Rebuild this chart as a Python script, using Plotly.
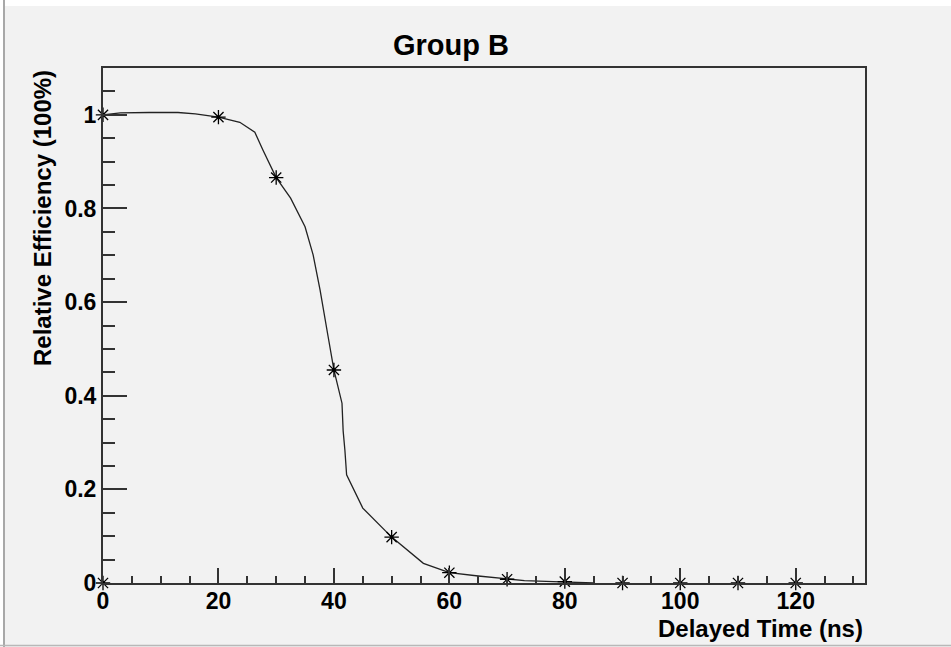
import plotly.graph_objects as go

# Measured points (asterisk markers)
point_x = [0, 0, 20, 30, 40, 50, 60, 70, 80, 90, 100, 110, 120]
point_y = [1.0, 0.0, 0.995, 0.866, 0.455, 0.098, 0.022, 0.008, 0.003, 0.0, 0.0, 0.0, 0.0]

# Smooth guide curve
curve_x = [0, 3, 8, 13, 16, 20, 23.7, 26.3, 27.7, 30, 32.5, 35, 36.4, 37.6, 39, 40, 41.4,
           41.6, 41.9, 42.2, 45, 50, 55.5, 60, 65, 70, 73, 78, 85]
curve_y = [1.0, 1.004, 1.005, 1.005, 1.002, 0.995, 0.984, 0.963, 0.925, 0.866, 0.822, 0.761,
           0.701, 0.626, 0.526, 0.455, 0.384, 0.325, 0.284, 0.231, 0.160, 0.098, 0.042, 0.022,
           0.015, 0.008, 0.005, 0.003, 0.0]

title_text = "Group B"
x_title = "Delayed Time (ns)"
y_title = "Relative Efficiency (100%)"

FONT = "Liberation Sans, Arial, Helvetica, sans-serif"
AX = "#333333"
BG = "#f2f2f2"

fig = go.Figure()
fig.add_trace(go.Scatter(x=curve_x, y=curve_y, mode="lines",
                         line=dict(color="#222222", width=1.3), hoverinfo="skip",
                         showlegend=False))
fig.add_trace(go.Scatter(x=point_x, y=point_y, mode="markers",
                         marker=dict(symbol="asterisk-open", size=12, color="black",
                                     line=dict(color="black", width=1.3)),
                         cliponaxis=False, showlegend=False))
fig.add_trace(go.Scatter(x=point_x, y=point_y, mode="markers",
                         marker=dict(symbol="circle", size=3.5, color="black"),
                         cliponaxis=False, showlegend=False, hoverinfo="skip"))

fig.update_layout(
    width=951, height=647,
    margin=dict(l=103, r=86, t=68, b=64),
    paper_bgcolor=BG, plot_bgcolor=BG,
    font=dict(family=FONT, color="black"),
    xaxis=dict(range=[0, 132], dtick=20, tick0=0, ticks="inside", ticklen=15,
               tickwidth=1.5, tickcolor=AX, showline=True, linecolor=AX, linewidth=2,
               mirror=True, showgrid=False, zeroline=False, ticklabelstandoff=-4,
               tickfont=dict(family=FONT, size=23, color="black", weight="bold"),
               minor=dict(ticks="inside", ticklen=7, dtick=5, tick0=0, tickcolor=AX,
                          tickwidth=1.5, showgrid=False)),
    yaxis=dict(range=[0, 1.1], dtick=0.2, tick0=0, ticks="inside", ticklen=24,
               tickwidth=1.5, tickcolor=AX, showline=True, linecolor=AX, linewidth=2,
               mirror=True, showgrid=False, zeroline=False,
               tickfont=dict(family=FONT, size=23, color="black", weight="bold"),
               minor=dict(ticks="inside", ticklen=12, dtick=0.05, tick0=0, tickcolor=AX,
                          tickwidth=1.5, showgrid=False)),
    annotations=[
        dict(text=title_text, xref="paper", yref="paper", x=0.457, y=1 + 23 / 515,
             xanchor="center", yanchor="middle", showarrow=False,
             font=dict(family=FONT, size=29, color="black", weight="bold")),
        dict(text=x_title, xref="paper", yref="paper", x=1.0, y=-45 / 515,
             xanchor="right", yanchor="middle", showarrow=False,
             font=dict(family=FONT, size=24, color="black", weight="bold")),
        dict(text=y_title, xref="paper", yref="paper", x=-0.08, y=1.0,
             xanchor="center", yanchor="top", textangle=-90, showarrow=False,
             font=dict(family=FONT, size=24, color="black", weight="bold")),
    ],
    shapes=[
        dict(type="rect", xref="paper", yref="paper", x0=-0.2, x1=1.2,
             y0=1 + 62 / 515, y1=1 + 70 / 515, fillcolor="white", line=dict(width=0),
             layer="below"),
        dict(type="rect", xref="paper", yref="paper", x0=-103 / 762, x1=-99 / 762,
             y0=-0.2, y1=1.2, fillcolor="white", line=dict(width=0), layer="below"),
        dict(type="line", xref="paper", yref="paper", x0=-99 / 762, x1=-99 / 762,
             y0=-0.2, y1=1.2, line=dict(color="#a8a8a8", width=2)),
        dict(type="line", xref="paper", yref="paper", x0=-0.2, x1=1.2,
             y0=-62.5 / 515, y1=-62.5 / 515, line=dict(color="#b8b8b8", width=1.5)),
    ],
)

fig.write_html("out.html")
